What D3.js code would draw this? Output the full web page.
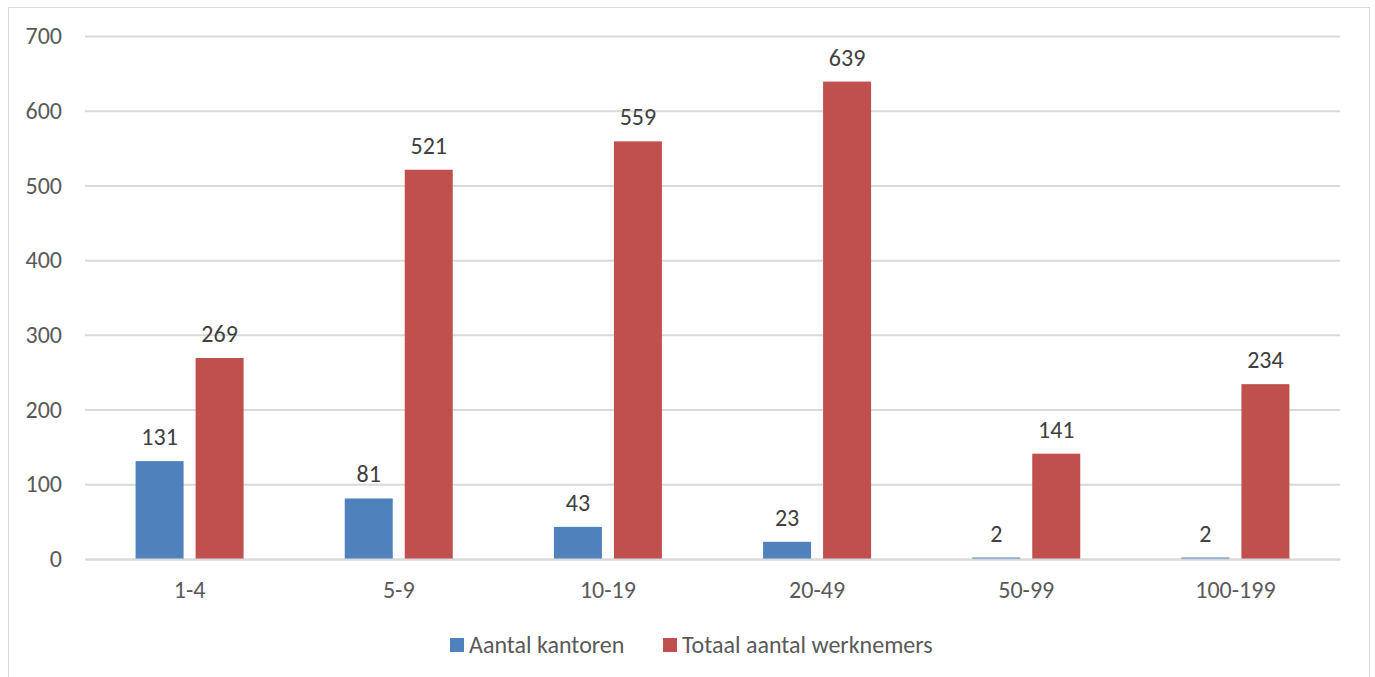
<!DOCTYPE html>
<html><head><meta charset="utf-8">
<script src="https://cdn.jsdelivr.net/npm/d3@7"></script>
<style>
html,body{margin:0;padding:0;background:#fff;}
svg text{font-family:Carlito, Lato, "Open Sans", sans-serif;}
</style></head>
<body>
<svg id="c" width="1375" height="677"></svg>
<script>
const categories = ["1-4","5-9","10-19","20-49","50-99","100-199"];
const seriesNames = ["Aantal kantoren","Totaal aantal werknemers"];
const kantoren = [131,81,43,23,2,2];
const werknemers = [269,521,559,639,141,234];
const yTicks = [0,100,200,300,400,500,600,700];
const colors = ["#4F81BD","#C0504D"];

const svg = d3.select("#c");
const W = 1375, H = 677;
const m = {left:85, right:1340, top:36, bottom:559};
const FS = "24px";

svg.append("rect").attr("x",8.5).attr("y",7.5).attr("width",1361).attr("height",H+10)
  .attr("fill","#fff").attr("stroke","#D9D9D9").attr("stroke-width",1);

const x = d3.scaleBand().domain(categories).range([m.left,m.right]).paddingInner(0).paddingOuter(0);
const y = d3.scaleLinear().domain([0,700]).range([m.bottom,m.top]);
const barW = 48, gap = 12;
const off0 = (x.bandwidth()-(2*barW+gap))/2;
const x1 = d3.scaleOrdinal().domain([0,1]).range([off0, off0 + barW + gap]);

// grid
const yAxis = d3.axisLeft(y).tickValues(yTicks).tickSize(-(m.right-m.left)).tickPadding(23);
const gy = svg.append("g").attr("transform",`translate(${m.left},0)`).call(yAxis);
gy.select(".domain").remove();
gy.selectAll(".tick line").attr("stroke","#D9D9D9").attr("stroke-width",2);
gy.selectAll(".tick text").attr("fill","#595959").style("font-size",FS);

const data = [kantoren, werknemers];
data.forEach((vals,si)=>{
  const g = svg.append("g");
  g.selectAll("rect").data(vals).join("rect")
    .attr("x",(d,i)=>x(categories[i])+x1(si))
    .attr("y",d=>y(d))
    .attr("width",barW)
    .attr("height",d=>y(0)-y(d))
    .attr("fill",colors[si]);
  g.selectAll("text").data(vals).join("text")
    .attr("x",(d,i)=>x(categories[i])+x1(si)+barW/2)
    .attr("y",d=>y(d)-16)
    .attr("text-anchor","middle")
    .attr("fill","#404040")
    .style("font-size",FS)
    .text(d=>d);
});

// x axis
const xAxis = d3.axisBottom(x).tickSize(0).tickPadding(22);
const gx = svg.append("g").attr("transform",`translate(0,${m.bottom})`).call(xAxis);
gx.select(".domain").attr("stroke","#D9D9D9").attr("stroke-width",2);
gx.selectAll(".tick text").attr("fill","#595959").style("font-size",FS);

// legend
const leg = svg.append("g");
const legX = [450, 663];
seriesNames.forEach((n,i)=>{
  leg.append("rect").attr("x",legX[i]).attr("y",638).attr("width",14).attr("height",14).attr("fill",colors[i]);
  leg.append("text").attr("x",legX[i]+19).attr("y",645).attr("dy","0.35em")
    .attr("fill","#595959").style("font-size",FS).text(n);
});
</script>
</body></html>
